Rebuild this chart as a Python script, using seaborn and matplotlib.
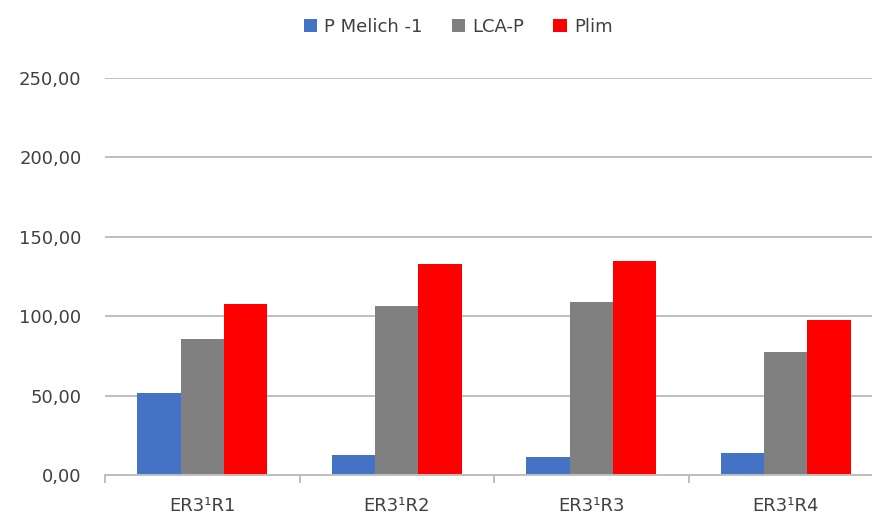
import matplotlib
matplotlib.use("Agg")
import matplotlib.pyplot as plt
from matplotlib.ticker import FuncFormatter, FixedLocator
import seaborn as sns
import pandas as pd

# Samples and measured phosphorus values
samples = ["ER3¹R1", "ER3¹R2", "ER3¹R3", "ER3¹R4"]
series_names = ["P Melich -1", "LCA-P", "Plim"]
p_melich = [51.8, 12.6, 11.1, 13.7]
lca_p = [85.4, 106.2, 108.8, 77.3]
plim = [107.5, 132.7, 135.0, 97.6]
colors = ["#4472C4", "#808080", "#FF0000"]

df = pd.DataFrame({
    "sample": samples * 3,
    "series": [series_names[0]] * 4 + [series_names[1]] * 4 + [series_names[2]] * 4,
    "value": p_melich + lca_p + plim,
})

sns.set_theme(style="white")
plt.rcParams["font.family"] = ["DejaVu Sans"]

W, H = 872, 517
fig = plt.figure(figsize=(W / 100, H / 100), dpi=100)
ax = fig.add_axes([105 / W, 42 / H, 778 / W, 397 / H])

sns.barplot(data=df, x="sample", y="value", hue="series", order=samples,
            hue_order=series_names, palette=colors, width=0.67, gap=0,
            saturation=1, errorbar=None, ax=ax, legend=True, linewidth=0)

ax.set_xlim(-0.5, len(samples) - 0.5)
ax.set_ylim(0, 250)
ax.set_yticks([0, 50, 100, 150, 200, 250])
ax.yaxis.set_major_formatter(FuncFormatter(lambda v, p: f"{v:.2f}".replace(".", ",")))
ax.yaxis.grid(True, color="#BFBFBF", linewidth=1.4)
ax.set_axisbelow(True)

for s in ["top", "right", "left"]:
    ax.spines[s].set_visible(False)
ax.spines["bottom"].set_color("#BFBFBF")
ax.spines["bottom"].set_linewidth(1.4)

ax.tick_params(axis="y", length=0, pad=17, labelsize=13, labelcolor="#404040")
ax.tick_params(axis="x", which="major", length=0, pad=16, labelsize=13, labelcolor="#404040")
ax.xaxis.set_minor_locator(FixedLocator([i - 0.5 for i in range(len(samples) + 1)]))
ax.tick_params(axis="x", which="minor", bottom=True, length=6, width=1.4, color="#BFBFBF")
ax.set_xlabel("")
ax.set_ylabel("")

handles, labels = ax.get_legend_handles_labels()
ax.get_legend().remove()
fig.legend(handles, labels, loc="center", bbox_to_anchor=(458 / W, 1 - 27 / H),
           ncol=3, frameon=False, fontsize=13, handlelength=0.75, handleheight=0.75,
           handletextpad=0.4, columnspacing=1.6, labelcolor="#404040")

fig.savefig("out.png", dpi=100)
